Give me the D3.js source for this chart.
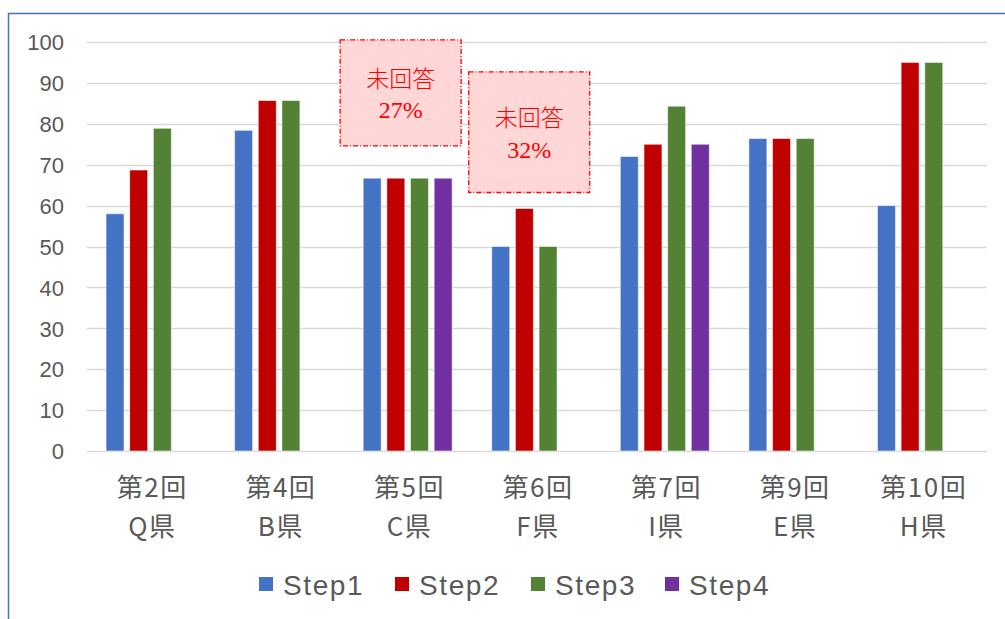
<!DOCTYPE html>
<html><head><meta charset="utf-8">
<script src="https://cdn.jsdelivr.net/npm/d3@7"></script>
<style>
html,body{margin:0;padding:0;background:#fff;}
svg{display:block;}
</style>
</head><body>
<svg id="c" width="1005" height="619"></svg>
<script>
// ---- data ----
const roundLabels = ["第2回","第4回","第5回","第6回","第7回","第9回","第10回"];
const prefLabels  = ["Q県","B県","C県","F県","I県","E県","H県"];
const seriesNames = ["Step1","Step2","Step3","Step4"];
const step1 = [58, 78.4, 66.7, 50, 72, 76.4, 60];
const step2 = [68.7, 85.7, 66.7, 59.3, 75, 76.4, 95];
const step3 = [78.9, 85.7, 66.7, 50, 84.3, 76.4, 95];
const step4 = [null, null, 66.7, null, 75, null, null];
const yTicks = [0,10,20,30,40,50,60,70,80,90,100];
const noteCats = ["第5回","第6回"];
const noteTitles = ["未回答","未回答"];
const notePcts = ["27%","32%"];

const colors = ["#4472C4","#C00000","#548235","#7030A0"];
const seriesVals = [step1, step2, step3, step4];

const svg = d3.select("#c");
const W = 1005, H = 619;

// outer border
svg.append("rect").attr("x",8.5).attr("y",13.5).attr("width",W).attr("height",H)
  .attr("fill","none").attr("stroke","#4472C4").attr("stroke-width",1.5);

const x = d3.scaleBand().domain(roundLabels).range([87, 987]).paddingInner(0).paddingOuter(0);
const y = d3.scaleLinear().domain([0,100]).range([451, 42]);
const bw = x.bandwidth();
const xs = d3.scaleBand().domain(d3.range(4)).range([bw*0.148, bw*0.84]).paddingInner(0.24).paddingOuter(0);

// gridlines
svg.append("g").selectAll("line").data(yTicks).join("line")
  .attr("x1",87).attr("x2",987)
  .attr("y1",d=>Math.round(y(d))+0.5).attr("y2",d=>Math.round(y(d))+0.5)
  .attr("stroke","#d9d9d9").attr("stroke-width",1.5);

// y axis labels
const yAxis = d3.axisLeft(y).tickValues(yTicks).tickSize(0).tickPadding(0);
const ya = svg.append("g").attr("transform","translate(64,0)").call(yAxis);
ya.select(".domain").remove();
ya.selectAll("text").attr("font-family","'Liberation Sans', Arial, sans-serif")
  .attr("font-size",22).attr("fill","#595959").attr("dy","0.35em");

// bars
const barData = [];
roundLabels.forEach((c,i)=>{
  seriesVals.forEach((s,j)=>{
    if (s[i] != null) barData.push({c, j, v:s[i]});
  });
});
svg.append("g").selectAll("rect").data(barData).join("rect")
  .attr("x",d=>x(d.c)+xs(d.j))
  .attr("width",xs.bandwidth())
  .attr("y",d=>y(d.v))
  .attr("height",d=>y(0)-y(d.v))
  .attr("fill",d=>colors[d.j])
  .attr("stroke","#ffffff").attr("stroke-opacity",0.55).attr("stroke-width",1);

// x axis (category labels)
const xAxis = d3.axisBottom(x).tickSize(0).tickPadding(0).tickFormat("");
const xa = svg.append("g").attr("transform",`translate(0,${y(0)})`).call(xAxis);
xa.select(".domain").remove();
const catFont = "'Noto Sans CJK JP', 'Liberation Sans', sans-serif";
const labG = svg.append("g").attr("font-family",catFont).attr("font-size",26).attr("fill","#595959")
  .attr("text-anchor","middle").attr("letter-spacing",1.5);
roundLabels.forEach((c,i)=>{
  labG.append("text").attr("x",x(c)+bw/2+1).attr("y",y(0)+37).attr("dy","0.35em").text(c);
  labG.append("text").attr("x",x(c)+bw/2+1).attr("y",y(0)+76).attr("dy","0.35em").text(prefLabels[i]);
});

// annotation boxes
const noteExtents = [[100.5,74.6],[92.7,63.2]];
noteCats.forEach((c,i)=>{
  const bx = x(c)-4, bwid = 121;
  const top = y(noteExtents[i][0]), bot = y(noteExtents[i][1]);
  svg.append("rect").attr("x",bx).attr("y",top).attr("width",bwid).attr("height",bot-top)
    .attr("fill","#ffd5d5").attr("fill-opacity",0.95)
    .attr("stroke","#ff0000").attr("stroke-width",1.3).attr("stroke-dasharray","5,2,1,2");
  const cx = bx + bwid/2, cy = (top+bot)/2;
  const g = svg.append("g").attr("fill","#ff0000").attr("text-anchor","middle");
  g.append("text").attr("x",cx).attr("y",cy-14).attr("dy","0.35em")
    .attr("font-family","'Noto Sans CJK JP', sans-serif").attr("font-size",23).attr("font-weight",300)
    .text(noteTitles[i]);
  g.append("text").attr("x",cx).attr("y",cy+17).attr("dy","0.35em")
    .attr("font-family","'Liberation Serif','DejaVu Serif',serif").attr("font-size",24)
    .text(notePcts[i]);
});

// legend
const legX = [259, 395, 531, 665];
const leg = svg.append("g");
seriesNames.forEach((n,j)=>{
  leg.append("rect").attr("x",legX[j]).attr("y",577).attr("width",14).attr("height",14).attr("fill",colors[j]);
  leg.append("text").attr("x",legX[j]+24).attr("y",585).attr("dy","0.35em")
    .attr("font-family","'Liberation Sans', Arial, sans-serif").attr("font-size",28)
    .attr("letter-spacing",1.6).attr("fill","#595959").text(n);
});
</script>
</body></html>
